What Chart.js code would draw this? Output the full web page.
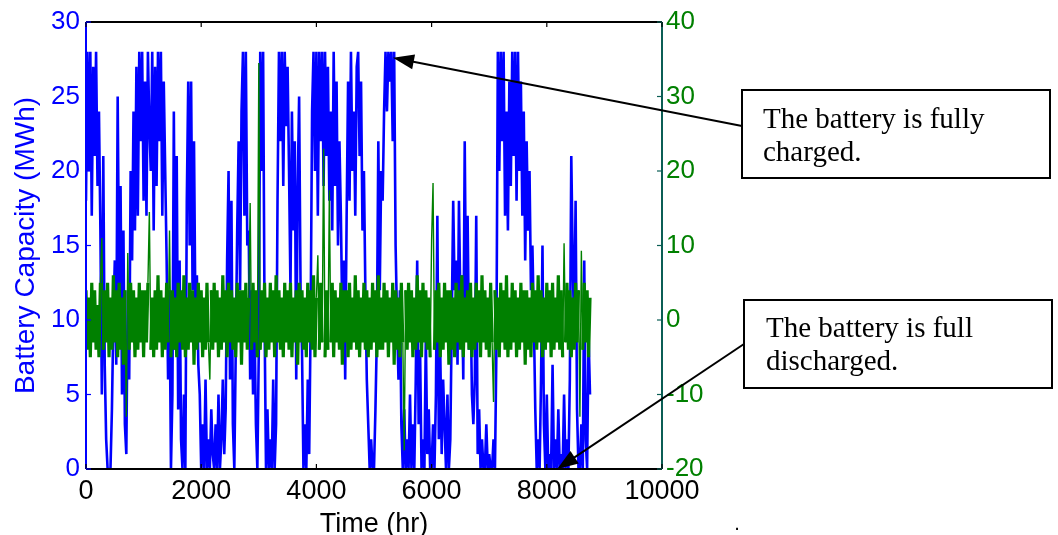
<!DOCTYPE html>
<html>
<head>
<meta charset="utf-8">
<script src="https://cdn.jsdelivr.net/npm/chart.js@4"></script>
<style>
  html, body { margin: 0; padding: 0; background: #fff; }
  canvas { display: block; }
</style>
</head>
<body>
<canvas id="battChart" width="1058" height="535"></canvas>
<script>
// sampling interval of both series (hours between readings)
const STEP_HR = 25;

// Battery capacity (MWh), left axis
const capacity = [
  18, 28, 20, 28, 17, 27, 21, 28, 19, 24, 16,
  5, 21, 7, 2, 0, 0, 0, 4,
  10, 14, 7, 25, 12,
  19, 5, 16, 3, 1, 12, 6,
  20, 14, 24, 16, 27, 17, 28,
  22, 28, 18, 26, 17, 28, 23, 20, 28, 16, 27, 19, 28, 22, 28, 17, 26, 20,
  14, 6, 12, 0, 5,
  24, 8, 21, 4, 14, 2,
  0, 5, 0,
  18, 26, 15, 26, 12, 22, 10,
  13, 7,
  5, 0, 3, 0, 6, 0, 2, 0, 4, 1, 0, 3, 0, 5, 0, 2, 6, 1, 4,
  14, 20, 6, 18, 3, 0,
  8, 16, 22, 12, 24, 28, 17, 28, 15,
  16, 6, 12, 5, 10, 3,
  0, 8, 28, 20, 28, 10,
  0, 4, 0, 2, 0, 6, 0, 3,
  18, 28, 22, 28, 19, 28, 23, 27,
  20, 12, 24, 16, 22, 6, 19, 25, 12, 8,
  0, 3, 0, 6, 1, 10,
  24, 28, 20, 28, 17, 28, 22, 28, 19, 28, 21, 27, 18,
  24, 16, 28, 19, 26, 15, 22, 17, 10, 14,
  6, 17,
  26, 18, 28, 20, 24, 17, 27, 28, 21, 26, 16, 20, 12,
  6, 3, 0, 2, 0, 0, 4, 9,
  22, 12, 20, 18, 24,
  28, 24, 28, 26, 28, 22, 28,
  15, 10, 6, 12, 3,
  0, 4, 0, 2, 0, 5, 0, 3, 0, 6,
  14, 3, 8, 0, 2, 0, 9, 1, 4,
  0, 0, 3, 0, 5,
  17, 2, 8, 1, 6, 3, 0, 5, 0, 2,
  10, 18, 12, 14, 7, 18, 11, 13, 6, 22, 10, 17, 8, 12, 5,
  3, 6, 17, 1, 4, 0, 2, 0, 0, 3, 0, 1, 0, 0, 2, 0,
  8, 28, 20, 28, 22, 28, 17, 24, 16, 26, 19, 28, 21, 28, 18,
  28, 20, 26, 17, 24, 14, 22, 16, 20, 12, 15, 10,
  4, 0, 2, 0, 6, 15, 3, 0, 5, 0, 1, 0, 7, 0, 2,
  0, 4, 0, 1, 0, 5, 0, 2, 0, 6,
  21, 14, 9, 18, 4, 0,
  0, 3, 0, 14, 2, 0, 9, 5
];

// Battery power (right axis)
const power = [
  4, -4, 3, -5, 5, -3, 4, -4, 2, -5, 5, 11, -4, 4, -3, 5, -5, 3, -4, 6,
  -3, 4, -5, 5, -4, 3, -6, 4, -13, 9, -4, 5, -3, 4, -5, 3, -4, 5, -3, 4,
  -5, 4, -3, 5, 14.5, -4, 3, -5, 4, -4, 6, -3, 4, -5, 3, -4, 5, -3, 12, -5,
  4, -4, 3, -5, 5, -3, 4, -4, 6, -5, 3, -4, 5, -3, 4, -6, 3, -4, 5, -3,
  4, -5, 3, -4, 5, -3, -8, 4, -4, 5, -3, 4, -5, 3, -4, 6, -3, 4, -5, 5,
  -3, 4, -4, 3, -5, 5, -3, 4, -6, 4, -3, 5, -4, 3, 15.7, -4, 5, -3, 4, -5,
  34.5, -4, 4, -3, 5, -5, 3, -4, 5, -3, 4, -5, 6, -3, 4, -4, 3, -5, 5, -3,
  4, -4, 5, -5, 3, -3, 4, -6, 5, -3, 4, -4, 3, -5, 5, -3, 4, -4, 6, -5,
  3, 8.7, -4, 5, -3, 23, -5, 4, -4, 17.4, -3, 5, -5, 4, -3, 3, -4, 5, -6, 4,
  -3, 4, -5, 5, -4, 3, -3, 6, -4, 4, -5, 3, -3, 5, -4, 4, -5, 3, -4, 5,
  -3, 4, -5, 6, -4, 3, -4, 5, -3, 4, -5, 3, -3, 5, -6, 4, -4, 3, -5, 5,
  -3, -17.5, 4, -4, 5, -3, 4, -5, 3, -4, 6, -3, 4, -5, 5, -3, 4, -4, 3, -5,
  10.7, 18.4, -4, 4, -3, 5, -5, 3, -4, 5, -3, 4, -6, 4, -4, 3, -5, 5, -3, 4,
  -4, 6, -5, 3, -3, 4, -4, 5, -5, 3, -4, 5, -3, 4, -5, 6, -3, 4, -4, 3,
  -5, 5, -3, -11, 4, -4, 3, -5, 5, -3, 4, -4, 6, -5, 3, -4, 5, -3, 4, -5,
  3, -4, 5, -3, 4, -6, 4, -4, 3, -5, 5, -3, 4, -4, 6, -3, 4, -5, 3, -4,
  5, -3, 4, -5, 5, -4, 3, -3, 6, -4, 4, -5, 10.3, -3, 5, -4, 4, -5, 3, -4,
  5, -3, 4, -13, 9.3, -4, 5, -3, 4, -5, 3
];

const xTicks = [0, 2000, 4000, 6000, 8000, 10000];

const BLUE = '#0000ff';
const GREEN = '#008000';
const TEAL = '#0b5e55';

const toPoints = arr => arr.map((v, i) => ({ x: i * STEP_HR, y: v }));

// thin strokes for the isolated spikes, thick ones inside the dense band
const bandWidth = (ctx, thin, thick) => {
  const a = Math.abs(ctx.p0.parsed.y), b = Math.abs(ctx.p1.parsed.y);
  return Math.max(a, b) > 7 ? thin : thick;
};

function arrow(ctx, x0, y0, x1, y1) {
  const ang = Math.atan2(y1 - y0, x1 - x0);
  const len = 21, half = 7.5;
  ctx.beginPath();
  ctx.moveTo(x0, y0);
  ctx.lineTo(x1 - Math.cos(ang) * len * 0.8, y1 - Math.sin(ang) * len * 0.8);
  ctx.stroke();
  ctx.beginPath();
  ctx.moveTo(x1, y1);
  ctx.lineTo(x1 - Math.cos(ang) * len - Math.sin(ang) * half, y1 - Math.sin(ang) * len + Math.cos(ang) * half);
  ctx.lineTo(x1 - Math.cos(ang) * len + Math.sin(ang) * half, y1 - Math.sin(ang) * len - Math.cos(ang) * half);
  ctx.closePath();
  ctx.fill();
}

// frame, inward ticks, axis titles and the two call-outs
const chromePlugin = {
  id: 'chrome',
  beforeDraw(chart) {
    const { ctx } = chart;
    ctx.save();
    ctx.fillStyle = '#fff';
    ctx.fillRect(0, 0, chart.width, chart.height);
    ctx.restore();
  },
  afterDraw(chart) {
    const { ctx, chartArea: a, scales } = chart;
    ctx.save();
    ctx.lineWidth = 2;

    // box
    ctx.strokeStyle = '#000';
    ctx.beginPath();
    ctx.moveTo(a.left, a.top); ctx.lineTo(a.right, a.top);
    ctx.moveTo(a.left, a.bottom); ctx.lineTo(a.right, a.bottom);
    ctx.stroke();
    ctx.strokeStyle = BLUE;
    ctx.beginPath(); ctx.moveTo(a.left, a.top); ctx.lineTo(a.left, a.bottom); ctx.stroke();
    ctx.strokeStyle = TEAL;
    ctx.beginPath(); ctx.moveTo(a.right, a.top); ctx.lineTo(a.right, a.bottom); ctx.stroke();

    // ticks pointing in
    ctx.lineWidth = 1.2;
    ctx.strokeStyle = '#000';
    scales.x.ticks.forEach(t => {
      const px = scales.x.getPixelForValue(t.value);
      ctx.beginPath();
      ctx.moveTo(px, a.bottom); ctx.lineTo(px, a.bottom - 5);
      ctx.moveTo(px, a.top); ctx.lineTo(px, a.top + 5);
      ctx.stroke();
    });
    ctx.strokeStyle = BLUE;
    scales.y.ticks.forEach(t => {
      const py = scales.y.getPixelForValue(t.value);
      ctx.beginPath(); ctx.moveTo(a.left, py); ctx.lineTo(a.left + 5, py); ctx.stroke();
    });
    ctx.strokeStyle = TEAL;
    scales.y1.ticks.forEach(t => {
      const py = scales.y1.getPixelForValue(t.value);
      ctx.beginPath(); ctx.moveTo(a.right, py); ctx.lineTo(a.right - 5, py); ctx.stroke();
    });

    // axis titles
    ctx.fillStyle = BLUE;
    ctx.font = '28px "Liberation Sans", Arial, sans-serif';
    ctx.textAlign = 'center';
    ctx.textBaseline = 'middle';
    ctx.translate(26, (a.top + a.bottom) / 2);
    ctx.rotate(-Math.PI / 2);
    ctx.fillText('Battery Capacity (MWh)', 0, 0);
    ctx.setTransform(1, 0, 0, 1, 0, 0);

    ctx.fillStyle = '#000';
    ctx.font = '27px "Liberation Sans", Arial, sans-serif';
    ctx.textBaseline = 'alphabetic';
    ctx.fillText('Time (hr)', (a.left + a.right) / 2, 532);
    ctx.font = '20px "Liberation Sans", Arial, sans-serif';
    ctx.fillText('.', 737, 530);

    // call-outs
    ctx.lineWidth = 2;
    ctx.strokeStyle = '#000';
    ctx.fillStyle = '#000';
    ctx.strokeRect(742, 90, 308, 88);
    ctx.strokeRect(744, 300, 308, 88);
    ctx.font = '29px "Liberation Serif", "Times New Roman", serif';
    ctx.textAlign = 'left';
    ctx.fillText('The battery is fully', 763, 128);
    ctx.fillText('charged.', 763, 161);
    ctx.fillText('The battery is full', 766, 337);
    ctx.fillText('discharged.', 766, 370);

    arrow(ctx, 742, 126, scales.x.getPixelForValue(5330), scales.y.getPixelForValue(27.6));
    arrow(ctx, 744, 344, scales.x.getPixelForValue(8180), scales.y.getPixelForValue(0));
    ctx.restore();
  }
};

new Chart(document.getElementById('battChart'), {
  type: 'line',
  data: {
    datasets: [
      {
        label: 'Battery capacity',
        data: toPoints(capacity),
        yAxisID: 'y',
        borderColor: BLUE,
        borderWidth: 2.6,
        pointRadius: 0,
        tension: 0,
        order: 1
      },
      {
        label: 'Battery power',
        data: toPoints(power),
        yAxisID: 'y1',
        borderColor: GREEN,
        borderWidth: 3,
        segment: { borderWidth: ctx => bandWidth(ctx, 1.4, 3.2) },
        pointRadius: 0,
        tension: 0,
        order: 0
      }
    ]
  },
  options: {
    responsive: false,
    animation: false,
    devicePixelRatio: 1,
    layout: { padding: { top: 22, left: 0, right: 0, bottom: 0 } },
    plugins: { legend: { display: false }, tooltip: { enabled: false } },
    scales: {
      x: {
        type: 'linear',
        min: 0,
        max: 10000,
        afterBuildTicks: s => { s.ticks = xTicks.map(v => ({ value: v })); },
        ticks: {
          color: '#000',
          font: { family: '"Liberation Sans", Arial', size: 27 },
          padding: 6,
          maxRotation: 0,
          autoSkip: false,
          callback: v => String(v)
        },
        grid: { display: false, drawTicks: false },
        border: { display: false },
        afterFit: s => { s.height = 66; }
      },
      y: {
        position: 'left',
        min: 0,
        max: 30,
        ticks: {
          stepSize: 5,
          color: BLUE,
          font: { family: '"Liberation Sans", Arial', size: 26 },
          padding: 6
        },
        grid: { display: false, drawTicks: false },
        border: { display: false },
        afterFit: s => { s.width = 86; }
      },
      y1: {
        position: 'right',
        min: -20,
        max: 40,
        ticks: {
          stepSize: 10,
          color: GREEN,
          font: { family: '"Liberation Sans", Arial', size: 26 },
          padding: 4
        },
        grid: { display: false, drawTicks: false },
        border: { display: false },
        afterFit: s => { s.width = 396; }
      }
    }
  },
  plugins: [chromePlugin]
});
</script>
</body>
</html>
